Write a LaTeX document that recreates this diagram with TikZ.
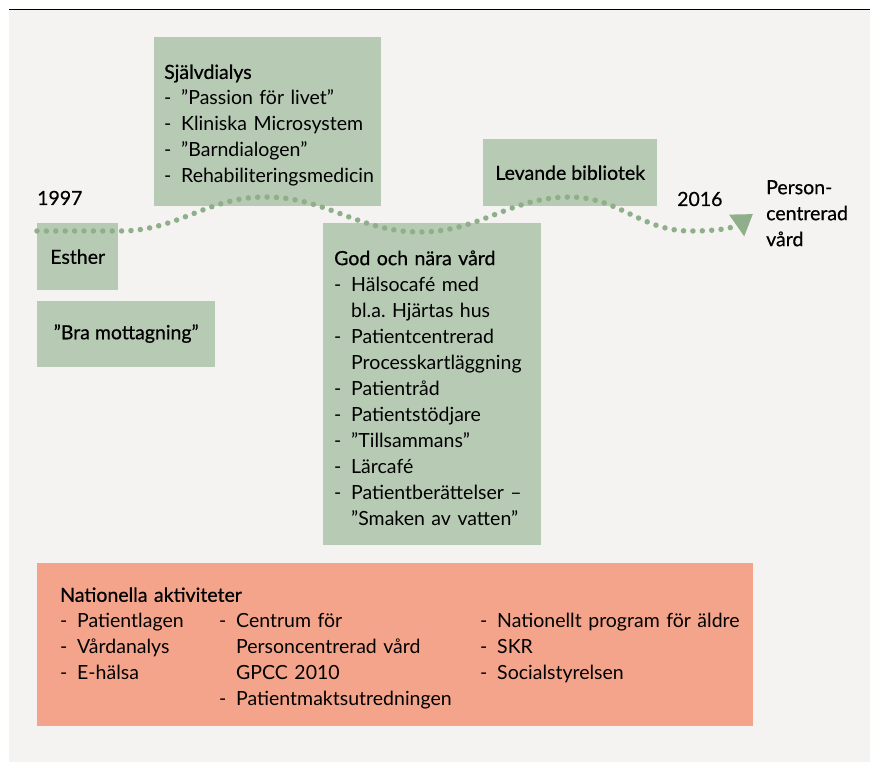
\documentclass[tikz,border=0pt]{standalone}
\usepackage{fontspec}
\setmainfont{Lato}
\newfontfamily\headfont[FakeBold=0.6]{Lato}
\usepackage{xcolor}
\usetikzlibrary{arrows.meta,positioning}

\definecolor{bggray}{HTML}{F4F3F1}
\definecolor{boxgreen}{HTML}{B6CAB4}
\definecolor{boxsalmon}{HTML}{F4A48B}
\definecolor{dotgreen}{HTML}{8FAE8A}

\newcommand{\itm}{\makebox[17pt][l]{-}}
\newcommand{\ind}{\hspace*{17pt}}
\newcommand{\topstrut}{\rule{0pt}{22pt}}
\frenchspacing

\begin{document}
\begin{tikzpicture}[
            x=1pt, y=-1pt,
            every node/.style={font=\fontsize{19.5}{26}\selectfont, align=left, inner sep=0pt},
            greenbox/.style={fill=boxgreen, anchor=north west},
            listbox/.style={greenbox, inner xsep=10pt},
            timeline/.style={draw=dotgreen, line width=5.5pt, line cap=round,
              dash pattern=on 0pt off 9.4pt, -{Triangle[length=20pt,width=25pt]}}
          ]

          % Background and top rule
          \useasboundingbox (0,0) rectangle (870,762);
          \fill[bggray] (9,10) rectangle (870,762);
          \draw[line width=1pt] (9,10) -- (870,10);

          % Boxes
          \node[listbox, text width=207pt, minimum height=169] (selfdialys) at (154,37)
            {\topstrut{\headfont Självdialys}\\
             \itm”Passion för livet”\\
             \itm Kliniska Microsystem\\
             \itm”Barndialogen”\\
             \itm Rehabiliteringsmedicin};
          \node[greenbox, minimum width=81, minimum height=67] (esther) at (37,223) {\headfont Esther};
          \node[greenbox, minimum width=178, minimum height=66,
                below=10pt of esther.south west, anchor=north west] (bra) {\headfont ”Bra mottagning”};
          \node[listbox, text width=196pt, minimum height=322, inner xsep=11pt] (god) at (323,223)
            {\topstrut{\headfont God och nära vård}\\
             \itm Hälsocafé med\\
             \ind bl.a. Hjärtas hus\\
             \itm Patientcentrerad\\
             \ind Processkartläggning\\
             \itm Patientråd\\
             \itm Patientstödjare\\
             \itm”Tillsammans”\\
             \itm Lärcafé\\
             \itm Patientberättelser –\\
             \ind”Smaken av vatten”};
          \node[greenbox, minimum width=174, minimum height=67] (levande) at (483,139) {\headfont Levande bibliotek};
          \node[fill=boxsalmon, anchor=north west, text width=670pt, inner xsep=23pt,
                minimum height=163] (nat) at (37,563)
            {\begin{tabular}{@{}p{159pt}@{}p{261pt}@{}l@{}}
             \multicolumn{3}{@{}l@{}}{\rule{0pt}{26pt}\headfont Nationella aktiviteter}\\
             \itm Patientlagen & \itm Centrum för & \itm Nationellt program för äldre\\
             \itm Vårdanalys & \ind Personcentrerad vård & \itm SKR\\
             \itm E-hälsa & \ind GPCC 2010 & \itm Socialstyrelsen\\
             & \itm Patientmaktsutredningen &
             \end{tabular}};

          % Years and goal
          \node[anchor=base west] (y1997) at (37,205) {\headfont 1997};
          \node[anchor=base west] (y2016) at (677,206) {\headfont 2016};
          \node[anchor=north west] (goal) at (766,180) {\headfont Person-\\\headfont centrerad\\\headfont vård};

          % Timeline
          \coordinate (start) at (37,231);
          \coordinate (end) at (753,214);
          \draw[timeline] (start) -- (120,231) to[out=0,in=180] (265,197)
            to[out=0,in=180] (420,232) to[out=0,in=180] (570,197)
            to[out=0,in=180] (690,231) to[out=0,in=215] (end);

        \end{tikzpicture}
\end{document}
